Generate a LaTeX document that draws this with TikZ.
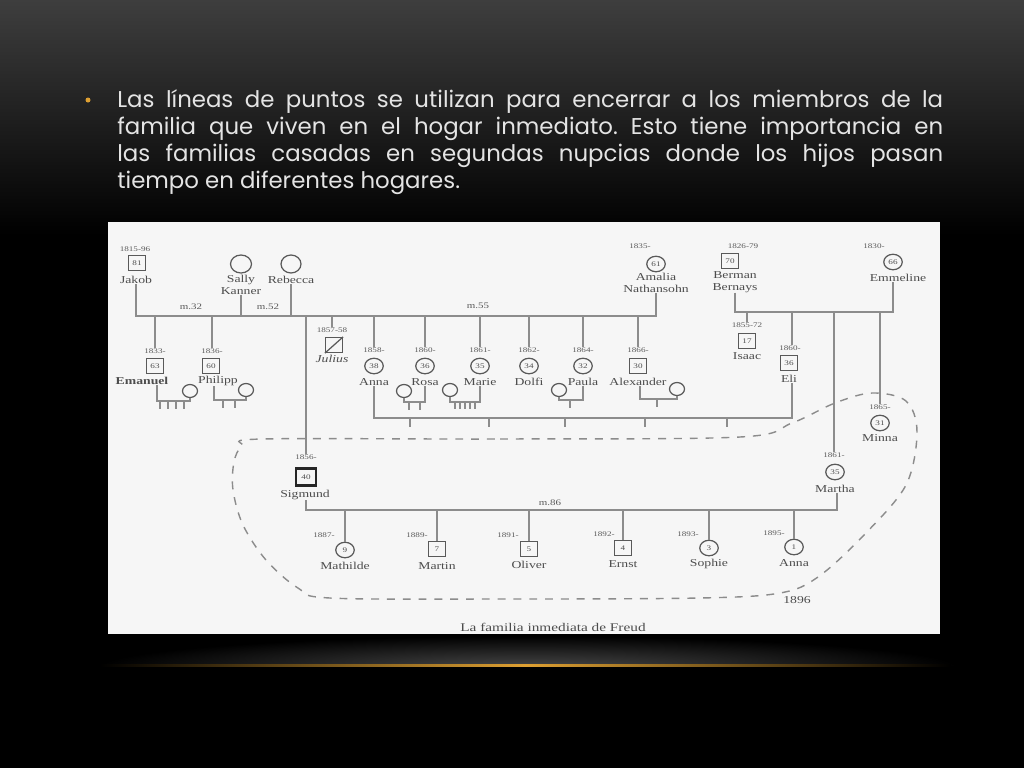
\documentclass[tikz,border=0pt]{standalone}
\usepackage{fontspec}
\setmainfont{Liberation Serif}
\newfontfamily\slidefont{Poppins}
\newfontfamily\scanfont[FakeStretch=1.3]{Liberation Serif}
\usetikzlibrary{shapes.geometric}
\definecolor{slidegold}{RGB}{222,160,50}
\definecolor{slidetext}{RGB}{228,228,228}
\definecolor{paper}{RGB}{246,246,246}
\definecolor{slidetop}{RGB}{62,62,62}
\definecolor{glow}{RGB}{72,72,72}
\frenchspacing

\begin{document}
\begin{tikzpicture}[x=0.02cm,y=-0.02cm,
  male/.style={draw=black!65, line width=0.7pt, minimum width=0.34cm, minimum height=0.3cm, inner sep=0pt, font=\scanfont\fontsize{4}{4}\selectfont, text=black!70},
  female/.style={male, ellipse, minimum width=0.37cm, minimum height=0.31cm},
  spouse/.style={female, minimum width=0.3cm, minimum height=0.26cm},
  yr/.style={inner sep=0pt, font=\scanfont\fontsize{4}{4}\selectfont, text=black!65},
  mar/.style={inner sep=0pt, font=\scanfont\fontsize{4.8}{4.8}\selectfont, text=black!65},
  nm/.style={inner sep=0pt, font=\scanfont\fontsize{6}{6.5}\selectfont, text=black!70, align=center},
  rel/.style={draw=black!45, line width=0.8pt},
  house/.style={draw=black!45, line width=0.8pt, dash pattern=on 4.5pt off 4.5pt}]
\useasboundingbox (0,0) rectangle (1024,768);
% slide
\fill[black] (0,0) rectangle (1024,768);
\shade[top color=slidetop, bottom color=black] (0,0) rectangle (1024,235);
\begin{scope}
\clip (0,600) rectangle (1024,665);
\shade[inner color=glow, outer color=black] (528,668) ellipse [x radius=430, y radius=32];
\end{scope}
\shade[left color=black, right color=black, middle color=slidegold] (100,664) rectangle (950,666.5);
\node[circle, fill=slidegold, inner sep=0pt, minimum size=0.1cm] (dot) at (88,100) {};
\node[anchor=north west, inner sep=0pt, text width=16.52cm, align=justify, text=slidetext,
  font=\slidefont\fontsize{13}{15.4}\selectfont] (bullet) at (117,89)
  {Las líneas de puntos se utilizan para encerrar a los miembros de la\linebreak
   familia que viven en el hogar inmediato. Esto tiene importancia en\linebreak
   las familias casadas en segundas nupcias donde los hijos pasan\linebreak
   tiempo en diferentes hogares.};
% scanned genogram
\fill[paper] (108,222) rectangle (940,634);

% Jakob and his wives
\node[yr] (jakob-y) at (135,249) {1815-96};
\node[male] (jakob) at (137,263) {81};
\node[nm] (jakob-n) at (136,280) {Jakob};
\node[spouse, minimum width=0.42cm, minimum height=0.36cm] (sally) at (241,264) {};
\node[nm] (sally-n) at (241,285) {Sally\\Kanner};
\node[spouse, minimum width=0.4cm, minimum height=0.36cm] (rebecca) at (291,264) {};
\node[nm] (rebecca-n) at (291,280) {Rebecca};
\node[yr] (amalia-y) at (640,246) {1835-};
\node[female] (amalia) at (656,264) {61};
\node[nm] (amalia-n) at (656,283) {Amalia\\Nathansohn};
\coordinate (m55) at (656,316);
\draw[rel] (jakob-n) |- (m55) -- (amalia-n);
\draw[rel] (sally-n) -- (sally-n |- m55);
\draw[rel] (rebecca-n) -- (rebecca-n |- m55);
\node[mar] (m32-l) at (191,307) {m.32};
\node[mar] (m52-l) at (268,307) {m.52};
\node[mar] (m55-l) at (478,306) {m.55};

% Bernays
\node[yr] (berman-y) at (743,246) {1826-79};
\node[male] (berman) at (730,261) {70};
\node[nm] (berman-n) at (735,282) {Berman\\Bernays};
\node[yr] (emmeline-y) at (874,246) {1830-};
\node[female] (emmeline) at (893,262) {66};
\node[nm] (emmeline-n) at (898,278) {Emmeline};
\coordinate (b-m) at (893,312);
\draw[rel] (berman-n) |- (b-m) -- (b-m |- emmeline-n.south);

% children of Jakob and Sally
\node[yr] (emanuel-y) at (155,351) {1833-};
\node[male] (emanuel) at (155,366) {63};
\node[nm, font=\scanfont\bfseries\fontsize{6}{6.5}\selectfont] (emanuel-n) at (142,381) {Emanuel};
\node[yr] (philipp-y) at (212,351) {1836-};
\node[male] (philipp) at (211,366) {60};
\node[nm] (philipp-n) at (218,381) {Philipp};
\draw[rel] (emanuel-y) -- (emanuel-y |- m55);
\draw[rel] (philipp-y) -- (philipp-y |- m55);
\node[spouse] (emanuel-sp) at (190,391) {};
\coordinate (emanuel-m) at (157,401);
\draw[rel] (emanuel-m |- emanuel-n.south) -- (emanuel-m) -| (emanuel-sp);
\foreach \d in {3,11,19,27} \draw[rel] (emanuel-m) ++(\d,0) -- ++(0,8);
\node[spouse] (philipp-sp) at (246,390) {};
\coordinate (philipp-m) at (214,400);
\draw[rel] (philipp-m |- philipp-n.south) -- (philipp-m) -| (philipp-sp);
\foreach \d in {9,21} \draw[rel] (philipp-m) ++(\d,0) -- ++(0,8);

% children of Jakob and Amalia
\node[yr] (sigmund-y) at (306,457) {1856-};
\node[male, line width=1.5pt, draw=black!85, minimum width=0.4cm, minimum height=0.35cm] (sigmund) at (306,477) {40};
\node[nm] (sigmund-n) at (305,495) {Sigmund};
\draw[rel] (sigmund-y) -- (sigmund-y |- m55);
\node[yr] (julius-y) at (332,330) {1857-58};
\node[male] (julius) at (334,345) {};
\draw[black!65, line width=0.7pt] (julius.north east) -- (julius.south west);
\node[nm] (julius-n) at (332,359) {\itshape Julius};
\draw[rel] (julius-y) -- (julius-y |- m55);
\node[yr] (anna-y) at (374,350) {1858-};
\node[female] (anna) at (374,366) {38};
\node[nm] (anna-n) at (374,382) {Anna};
\node[yr] (rosa-y) at (425,350) {1860-};
\node[female] (rosa) at (425,366) {36};
\node[nm] (rosa-n) at (425,382) {Rosa};
\node[yr] (marie-y) at (480,350) {1861-};
\node[female] (marie) at (480,366) {35};
\node[nm] (marie-n) at (480,382) {Marie};
\node[yr] (dolfi-y) at (529,350) {1862-};
\node[female] (dolfi) at (529,366) {34};
\node[nm] (dolfi-n) at (529,382) {Dolfi};
\node[yr] (paula-y) at (583,350) {1864-};
\node[female] (paula) at (583,366) {32};
\node[nm] (paula-n) at (583,382) {Paula};
\node[yr] (alexander-y) at (638,350) {1866-};
\node[male] (alexander) at (638,366) {30};
\node[nm] (alexander-n) at (638,382) {Alexander};
\foreach \k in {anna,rosa,marie,dolfi,paula,alexander}
  \draw[rel] (\k-y) -- (\k-y |- m55);

% their marriages
\node[spouse] (rosa-sp) at (404,391) {};
\coordinate (rosa-m) at (425,402);
\draw[rel] (rosa-n) -- (rosa-m) -| (rosa-sp);
\foreach \d in {-16,-5} \draw[rel] (rosa-m) ++(\d,0) -- ++(0,8);
\node[spouse] (marie-sp) at (450,390) {};
\coordinate (marie-m) at (480,402);
\draw[rel] (marie-n) -- (marie-m) -| (marie-sp);
\foreach \d in {-25,-20,-15,-10,-5} \draw[rel] (marie-m) ++(\d,0) -- ++(0,7);
\node[spouse] (paula-sp) at (559,390) {};
\coordinate (paula-m) at (583,400);
\draw[rel] (paula-n) -- (paula-m) -| (paula-sp);
\draw[rel] (paula-m) ++(-13,0) -- ++(0,8);
\node[spouse] (alexander-sp) at (677,389) {};
\coordinate (alexander-m) at (640,399);
\draw[rel] (alexander-m |- alexander-n.south) -- (alexander-m) -| (alexander-sp);
\draw[rel] (alexander-m) ++(17,0) -- ++(0,8);

% children of Berman and Emmeline
\node[yr] (isaac-y) at (747,325) {1855-72};
\node[male] (isaac) at (747,341) {17};
\node[nm] (isaac-n) at (747,356) {Isaac};
\draw[rel] (isaac-y) -- (isaac-y |- b-m);
\node[yr] (eli-y) at (790,348) {1860-};
\node[male] (eli) at (789,363) {36};
\node[nm] (eli-n) at (789,379) {Eli};
\coordinate (eli-m) at (792,418);
\draw[rel] (eli-m |- b-m) -- (eli-m |- eli-y.north);
\node[yr] (minna-y) at (880,407) {1865-};
\node[female] (minna) at (880,423) {31};
\node[nm] (minna-n) at (880,438) {Minna};
\draw[rel] (minna-y) -- (minna-y |- b-m);
\node[yr] (martha-y) at (834,455) {1861-};
\node[female] (martha) at (835,472) {35};
\node[nm] (martha-n) at (835,489) {Martha};
\draw[rel] (martha-y) -- (martha-y |- b-m);

% Anna and Eli
\coordinate (anna-m) at (374,418);
\draw[rel] (anna-n) -- (anna-m) -- (eli-m) -- (eli-m |- eli-n.south);
\foreach \d in {36,115,191,271,353} \draw[rel] (anna-m) ++(\d,0) -- ++(0,9);

% Sigmund and Martha
\coordinate (s-m) at (306,510);
\coordinate (t-m) at (837,510);
\draw[rel] (sigmund-n.south -| s-m) -- (s-m) -- (t-m) -- (martha-n.south -| t-m);
\node[mar] (m86-l) at (550,503) {m.86};
\node[yr] (mathilde-y) at (324,535) {1887-};
\node[female] (mathilde) at (345,550) {9};
\node[nm] (mathilde-n) at (345,566) {Mathilde};
\node[yr] (martin-y) at (417,535) {1889-};
\node[male] (martin) at (437,549) {7};
\node[nm] (martin-n) at (437,566) {Martin};
\node[yr] (oliver-y) at (508,535) {1891-};
\node[male] (oliver) at (529,549) {5};
\node[nm] (oliver-n) at (529,565) {Oliver};
\node[yr] (ernst-y) at (604,534) {1892-};
\node[male] (ernst) at (623,548) {4};
\node[nm] (ernst-n) at (623,564) {Ernst};
\node[yr] (sophie-y) at (688,534) {1893-};
\node[female] (sophie) at (709,548) {3};
\node[nm] (sophie-n) at (709,564) {Sophie};
\node[yr] (annaf-y) at (774,533) {1895-};
\node[female] (annaf) at (794,547) {1};
\node[nm] (annaf-n) at (794,563) {Anna};
\foreach \k in {mathilde,martin,oliver,ernst,sophie,annaf}
  \draw[rel] (\k) -- (\k |- s-m);

% household 1896
\draw[house] plot[smooth cycle, tension=0.55] coordinates {(262,439) (500,439) (740,437) (792,423) (835,403) (872,393) (906,401) (917,432) (906,485) (864,535) (818,577) (780,593) (700,598) (500,599) (330,598) (298,588) (266,560) (243,525) (233,490) (234,462) (242,446)};
\node[nm] (year) at (797,600) {1896};
\node[nm, font=\scanfont\fontsize{6.7}{7}\selectfont] (caption) at (553,627) {La familia inmediata de Freud};
\end{tikzpicture}
\end{document}
